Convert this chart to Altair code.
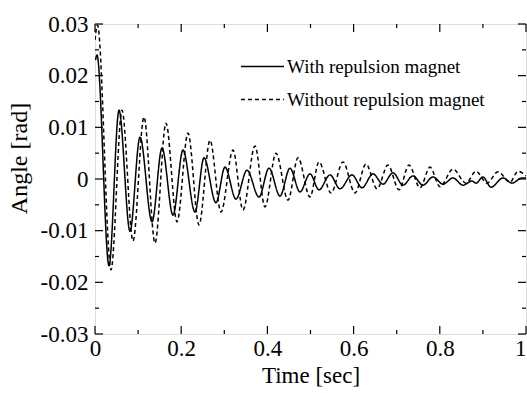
import altair as alt
import pandas as pd

series_names = ["With repulsion magnet", "Without repulsion magnet"]

with_t = [0.0012, 0.0046, 0.0325, 0.0557, 0.0812, 0.1044, 0.1323, 0.1555, 0.1810, 0.2042,
          0.2320, 0.2529, 0.2807, 0.3016, 0.3271, 0.3527, 0.3805, 0.4037, 0.4292, 0.4524,
          0.4756, 0.4988, 0.5197, 0.5452, 0.5684, 0.5963, 0.6195, 0.6450, 0.6682, 0.6914,
          0.7146, 0.7378, 0.7610, 0.7842, 0.8074, 0.8306, 0.8538, 0.8747, 0.8840, 0.9002,
          0.9188, 0.9466, 0.9675, 0.9907, 1.0]
with_v = [0.0230, 0.0240, -0.0168, 0.0133, -0.0101, 0.0081, -0.0083, 0.0060, -0.0070, 0.0056,
          -0.0064, 0.0041, -0.0046, 0.0023, -0.0039, 0.0017, -0.0035, 0.0021, -0.0033, 0.0021,
          -0.0025, 0.0010, -0.0021, 0.0008, -0.0019, 0.0008, -0.0017, 0.0010, -0.0010, 0.0012,
          -0.0012, 0.0006, -0.0012, 0.0004, -0.0010, 0.0002, -0.0012, -0.0004, -0.0008, 0.0004,
          -0.0016, 0.0002, -0.0008, 0.0002, 0.0002]

without_t = [0.0, 0.0058, 0.0371, 0.0626, 0.0882, 0.1137, 0.1392, 0.1647, 0.1903, 0.2158,
             0.2413, 0.2668, 0.2923, 0.3202, 0.3434, 0.3712, 0.3944, 0.4200, 0.4478, 0.4710,
             0.4988, 0.5197, 0.5476, 0.5754, 0.6032, 0.6288, 0.6543, 0.6798, 0.7053, 0.7285,
             0.7541, 0.7773, 0.8005, 0.8306, 0.8608, 0.8840, 0.9095, 0.9350, 0.9629, 0.9814, 1.0]
without_v = [0.0269, 0.0298, -0.0176, 0.0133, -0.0120, 0.0120, -0.0124, 0.0108, -0.0083, 0.0089,
             -0.0089, 0.0075, -0.0064, 0.0056, -0.0060, 0.0064, -0.0054, 0.0050, -0.0041, 0.0041,
             -0.0035, 0.0033, -0.0027, 0.0033, -0.0027, 0.0029, -0.0019, 0.0027, -0.0021, 0.0027,
             -0.0017, 0.0023, -0.0015, 0.0019, -0.0008, 0.0015, -0.0008, 0.0014, -0.0006, 0.0015, 0.0006]

x_major = [0, 0.2, 0.4, 0.6, 0.8, 1.0]
x_minor = [0.1, 0.3, 0.5, 0.7, 0.9]
y_major = [-0.03, -0.02, -0.01, 0, 0.01, 0.02, 0.03]
y_minor = [-0.025, -0.015, -0.005, 0.005, 0.015, 0.025]

FONT = "Liberation Serif"
W, H = 431, 310

df = pd.concat([
    pd.DataFrame({"t": with_t, "v": with_v, "series": series_names[0], "order": range(len(with_t))}),
    pd.DataFrame({"t": without_t, "v": without_v, "series": series_names[1], "order": range(len(without_t))}),
])

xscale = alt.Scale(domain=[0, 1], nice=False, zero=False)
yscale = alt.Scale(domain=[-0.03, 0.03], nice=False, zero=False)

xaxis = alt.Axis(values=x_major, format="~g", ticks=False, domain=False, grid=False,
                 labelFlush=False,
                 labelAlign={"condition": {"test": "datum.value >= 1", "value": "right"}, "value": "center"},
                 labelFont=FONT, labelFontSize=23, labelColor="black",
                 labelPadding=3, titleFont=FONT, titleFontSize=23, titleFontWeight="normal",
                 titleColor="black", titlePadding=4)
yaxis = alt.Axis(values=y_major, ticks=False, domain=False, grid=False, labelFlush=False,
                 labelExpr="datum.value == 0 ? '0' : (datum.value < 0 ? '-' + format(-datum.value, '.2f') : format(datum.value, '.2f'))",
                 labelFont=FONT, labelFontSize=23, labelColor="black", labelPadding=7,
                 titleFont=FONT, titleFontSize=24, titleFontWeight="normal",
                 titleColor="black", titlePadding=9, titleY=134)

lines = alt.Chart(df).mark_line(interpolate="monotone", strokeWidth=1.5, color="black", clip=True).encode(
    x=alt.X("t:Q", scale=xscale, title="Time [sec]", axis=xaxis),
    y=alt.Y("v:Q", scale=yscale, title="Angle [rad]", axis=yaxis),
    strokeDash=alt.StrokeDash("series:N",
                              scale=alt.Scale(domain=series_names, range=[[1, 0], [4, 3]]),
                              legend=alt.Legend(title=None, orient="none", legendX=145, legendY=20,
                                                symbolType="stroke", symbolSize=1849,
                                                symbolStrokeWidth=1.5, symbolStrokeColor="black",
                                                labelFont=FONT, labelFontSize=19, labelColor="black",
                                                labelOffset=2, rowPadding=-8, labelLimit=400)),
    order="order:Q",
)

xmaj = pd.DataFrame({"t": x_major})
xmin = pd.DataFrame({"t": x_minor})
ymaj = pd.DataFrame({"v": y_major})
ymin = pd.DataFrame({"v": y_minor})

def xticks(data, length, top):
    base = alt.Chart(data).mark_rule(color="black", strokeWidth=1.2)
    xe = alt.X("t:Q", scale=xscale, title="Time [sec]", axis=xaxis)
    if top:
        return base.encode(x=xe, y=alt.value(0), y2=alt.value(length))
    return base.encode(x=xe, y=alt.value(H), y2=alt.value(H - length))

def yticks(data, length, right):
    base = alt.Chart(data).mark_rule(color="black", strokeWidth=1.2)
    ye = alt.Y("v:Q", scale=yscale, title="Angle [rad]", axis=yaxis)
    if right:
        return base.encode(y=ye, x=alt.value(W), x2=alt.value(W - length))
    return base.encode(y=ye, x=alt.value(0), x2=alt.value(length))

chart = alt.layer(
    lines,
    xticks(xmaj, 8, False), xticks(xmin, 4, False),
    xticks(xmaj, 8, True), xticks(xmin, 4, True),
    yticks(ymaj, 8, False), yticks(ymin, 4, False),
    yticks(ymaj, 8, True), yticks(ymin, 4, True),
).properties(
    width=W, height=H,
    autosize=alt.AutoSizeParams(type="none"),
    padding={"left": 95, "top": 24, "right": 1, "bottom": 59},
).configure_view(stroke="black", strokeWidth=1.5).configure(background="white")

chart.save("out.html", embed_options={"renderer": "svg", "actions": False})
